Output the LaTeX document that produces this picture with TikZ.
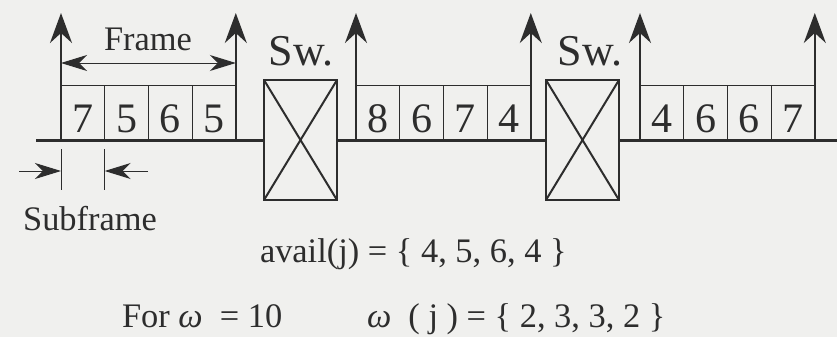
\documentclass[tikz,border=0pt]{standalone}
\usepackage{fontspec}
\setmainfont{Liberation Serif}
\usetikzlibrary{arrows.meta,positioning}
\definecolor{paper}{RGB}{240,240,238}
\definecolor{ink}{RGB}{45,45,45}

\begin{document}
\begin{tikzpicture}[
    x=0.5pt, y=-0.5pt,
    every node/.style={text=ink, inner sep=0pt, outer sep=0pt},
    cell/.style={draw=ink, line width=0.5pt, minimum width=21.85pt, minimum height=27.5pt,
                 font=\fontsize{21}{22}\selectfont, text height=19.5pt, text depth=0pt},
    swbox/.style={draw=ink, line width=1pt, minimum width=36.5pt, minimum height=60pt},
    lbl/.style={font=\fontsize{17.2}{19}\selectfont},
    swlbl/.style={font=\fontsize{22}{24}\selectfont},
    uparr/.style={-{Stealth[length=15pt, width=11pt, inset=5pt]}, line width=1pt, draw=ink},
    dimarr/.style={-{Stealth[length=13pt, width=8pt, inset=4pt]}, line width=0.5pt, draw=ink},
    tick/.style={line width=0.5pt, draw=ink}
  ]
  \fill[paper] (0,0) rectangle (837,337);
  \useasboundingbox (0,0) rectangle (837,337);

  % Switches
  \node[swbox] (sw1) at (300.5,140) {};
  \node[swbox] (sw2) at (582.5,140) {};
  \node[swlbl, anchor=base] at (301,65) {Sw.};
  \node[swlbl, anchor=base] at (590,65) {Sw.};
  \draw[line width=1pt, ink] (sw1.north west) -- (sw1.south east) (sw1.north east) -- (sw1.south west);
  \draw[line width=1pt, ink] (sw2.north west) -- (sw2.south east) (sw2.north east) -- (sw2.south west);

  % Frame 1
  \node[cell, anchor=south west] (a1) at (61,140) {7};
  \node[cell, right=0pt of a1] (a2) {5};
  \node[cell, right=0pt of a2] (a3) {6};
  \node[cell, right=0pt of a3] (a4) {5};

  % Frame 2
  \node[cell, anchor=south west] (b1) at (356,140) {8};
  \node[cell, right=0pt of b1] (b2) {6};
  \node[cell, right=0pt of b2] (b3) {7};
  \node[cell, right=0pt of b3] (b4) {4};

  % Frame 3
  \node[cell, anchor=south west] (c1) at (640,140) {4};
  \node[cell, right=0pt of c1] (c2) {6};
  \node[cell, right=0pt of c2] (c3) {6};
  \node[cell, right=0pt of c3] (c4) {7};

  % Time line
  \coordinate (lineL) at (36,140);
  \coordinate (lineR) at (837,140);
  \draw[line width=1.5pt, ink] (lineL) -- (sw1.west);
  \draw[line width=1.5pt, ink] (sw1.east) -- (sw2.west);
  \draw[line width=1.5pt, ink] (sw2.east) -- (lineR);

  % Frame boundaries
  \coordinate (tip) at (0,13);
  \foreach \f in {a1.south west, a4.south east, b1.south west, b4.south east, c1.south west, c4.south east}
    \draw[uparr] (\f) -- (\f |- tip);

  % Frame length
  \coordinate (fr) at (0,63);
  \draw[dimarr, {Stealth[length=13pt, width=8pt, inset=4pt]}-{Stealth[length=13pt, width=8pt, inset=4pt]}]
    (a1.west |- fr) -- (a4.east |- fr);
  \node[lbl, anchor=base] (frame) at (148,50) {Frame};

  % Subframe length
  \draw[tick] ([yshift=-4.5pt]a1.south west) -- ++(0,41);
  \draw[tick] ([yshift=-4.5pt]a2.south west) -- ++(0,41);
  \coordinate (sl) at (19,171);
  \coordinate (sr) at (148,171);
  \draw[dimarr] (sl) -- (sl -| a1.west);
  \draw[dimarr] (sr) -- (sr -| a2.west);
  \node[lbl, anchor=base] (sub) at (90,230) {Subframe};

  % Equations
  \node[lbl, anchor=base west] (avail) at (260,262) {avail(j) = \{ 4, 5, 6, 4 \}};
  \node[lbl, anchor=base west] (for) at (122,327) {For \textit{ω}\ \ = 10};
  \node[lbl, anchor=base west] (wj) at (367,327) {\textit{ω}\ \ ( j ) = \{ 2, 3, 3, 2 \}};
\end{tikzpicture}
\end{document}
